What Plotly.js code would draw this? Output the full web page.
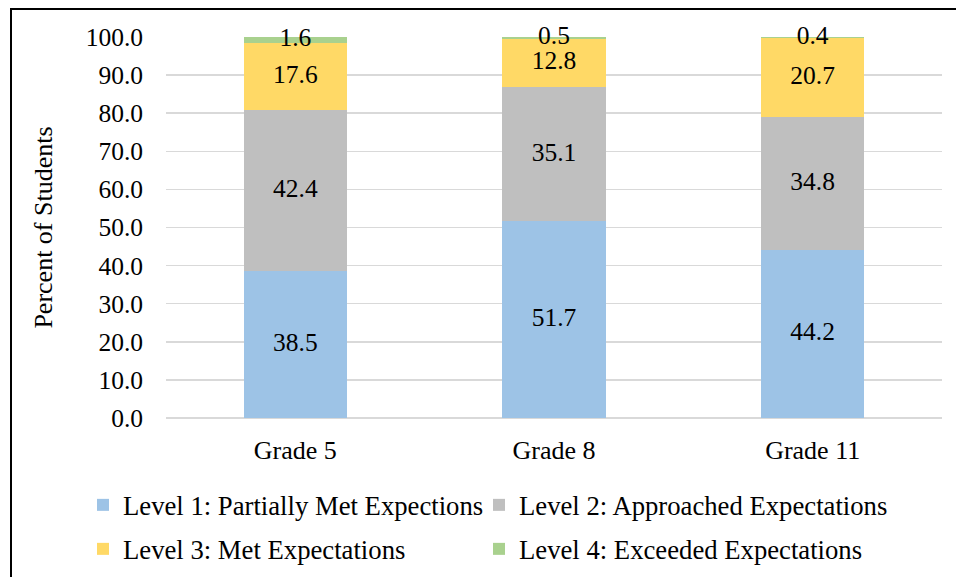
<!DOCTYPE html>
<html>
<head>
<meta charset="utf-8">
<script src="https://cdn.plot.ly/plotly-3.0.1.min.js"></script>
<style>
html,body{margin:0;padding:0;background:#fff;}
#wrap{position:relative;width:956px;height:577px;overflow:hidden;}
#chart{position:absolute;left:0;top:0;width:956px;height:577px;}
#frame{position:absolute;left:10px;top:8px;width:960px;height:600px;border-top:2px solid #000;border-left:2px solid #000;pointer-events:none;}
</style>
</head>
<body>
<div id="wrap"><div id="chart"></div><div id="frame"></div></div>
<script>
var categories = ["Grade 5", "Grade 8", "Grade 11"];
var level1 = [38.5, 51.7, 44.2];
var level2 = [42.4, 35.1, 34.8];
var level3 = [17.6, 12.8, 20.7];
var level4 = [1.6, 0.5, 0.4];
var seriesNames = ["Level 1: Partially Met Expections", "Level 2: Approached Expectations", "Level 3: Met Expectations", "Level 4: Exceeded Expectations"];
var seriesColors = ["#9DC3E6", "#BFBFBF", "#FFD966", "#A9D18E"];
var seriesValues = [level1, level2, level3, level4];
var legendIds = ["legend", "legend2", "legend3", "legend4"];

var FONT = "Liberation Serif, Times New Roman, serif";
var traces = seriesValues.map(function(vals, i){
  return {
    type: "bar",
    x: categories,
    y: vals,
    name: seriesNames[i],
    legend: legendIds[i],
    marker: {color: seriesColors[i], line: {width: 0}},
    hoverinfo: "skip"
  };
});

// data labels: centred in each stacked segment
var base = categories.map(function(){return 0;});
var labX = [], labY = [], labT = [];
seriesValues.forEach(function(vals){
  vals.forEach(function(v, j){
    labX.push(categories[j]);
    labY.push(base[j] + v / 2);
    labT.push(v.toFixed(1));
    base[j] += v;
  });
});
traces.push({
  type: "scatter",
  mode: "text",
  x: labX, y: labY, text: labT,
  textposition: "middle center",
  textfont: {family: FONT, size: 25.5, color: "#000"},
  cliponaxis: false,
  showlegend: false,
  hoverinfo: "skip"
});

var PL = 166, PW = 776, PB = 418, PH = 381;
function leg(px, py){
  return {
    orientation: "h",
    xref: "paper", yref: "paper",
    xanchor: "left", yanchor: "middle",
    x: (px - PL) / PW, y: (PB - py) / PH,
    font: {family: FONT, size: 26.7, color: "#000"},
    bgcolor: "rgba(0,0,0,0)",
    itemclick: false
  };
}

var layout = {
  width: 956, height: 577,
  margin: {l: 166, r: 14, t: 37, b: 159, autoexpand: false},
  paper_bgcolor: "#fff", plot_bgcolor: "#fff",
  barmode: "stack",
  bargap: 0.6,
  showlegend: true,
  font: {family: FONT, color: "#000"},
  xaxis: {
    type: "category",
    showgrid: false, zeroline: false, showline: false,
    ticks: "",
    tickfont: {family: FONT, size: 26, color: "#000"},
    ticklabelstandoff: 14,
    fixedrange: true
  },
  yaxis: {
    range: [0, 100],
    dtick: 10,
    tickformat: ".1f",
    showgrid: true, gridcolor: "#D9D9D9", gridwidth: 1.5,
    zeroline: true, zerolinecolor: "#D9D9D9", zerolinewidth: 1.5,
    showline: false, ticks: "",
    tickfont: {family: FONT, size: 25.5, color: "#000"},
    ticklabelstandoff: 22,
    title: {text: "Percent of Students", font: {family: FONT, size: 26, color: "#000"}, standoff: 25},
    fixedrange: true
  },
  legend: leg(83, 505),
  legend2: leg(479, 505),
  legend3: leg(83, 549),
  legend4: leg(479, 549)
};

Plotly.newPlot("chart", traces, layout, {displayModeBar: false, staticPlot: true});
</script>
</body>
</html>
